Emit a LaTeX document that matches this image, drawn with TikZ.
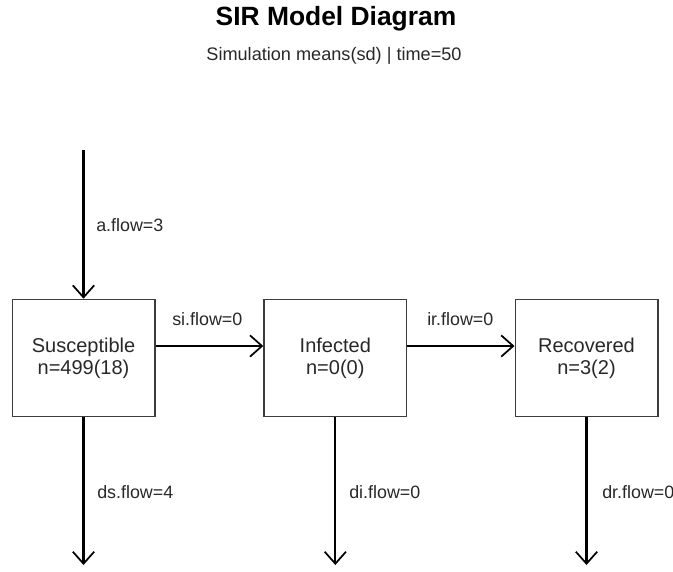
\documentclass[tikz,border=0pt]{standalone}
\usepackage{fontspec}
\setmainfont{Liberation Sans}
\usetikzlibrary{positioning,arrows.meta}
\definecolor{boxcolor}{RGB}{60,60,60}
\definecolor{textcolor}{RGB}{40,40,40}

\begin{document}
\begin{tikzpicture}[
    x=0.75pt, y=-0.75pt,
    compartment/.style={rectangle, draw=boxcolor, line width=1pt, minimum width=107pt, minimum height=88pt, align=center, font=\fontsize{15}{16.5}\selectfont, text=textcolor},
    flowlabel/.style={anchor=base west, inner sep=0pt, font=\fontsize{13.4}{16}\selectfont, text=textcolor},
    arrow/.style={-{Straight Barb[length=9pt, width=16pt, line width=1.3pt]}, line width=1.6pt},
    title/.style={anchor=base, inner sep=0pt, font=\fontsize{19.8}{22}\selectfont\bfseries},
    subtitle/.style={anchor=base, inner sep=0pt, font=\fontsize{13.6}{16}\selectfont, text=textcolor}
]
\useasboundingbox (0,0) rectangle (673,571);

% ===== TITLE =====
\node[title] (maintitle) at (336,25) {SIR Model Diagram};
\node[subtitle] (subtitle) at (334,60) {Simulation means(sd) | time=50};

% ===== COMPARTMENTS =====
\node[compartment] (susc) at (83.5,358) {Susceptible\\n=499(18)};
\node[compartment] (inf) at (335.3,358) {Infected\\n=0(0)};
\node[compartment] (rec) at (586.5,358) {Recovered\\n=3(2)};

% ===== OPEN ENDS =====
\coordinate (ain) at (83.5,150);
\coordinate (dsout) at (83.5,565);
\coordinate (diout) at (335.3,565);
\coordinate (drout) at (586.5,565);

% ===== ARROWS =====
\draw[arrow] (ain) -- (susc.north);
\draw[arrow] ([yshift=9pt]susc.east) -- ([yshift=9pt]inf.west);
\draw[arrow] ([yshift=9pt]inf.east) -- ([yshift=9pt]rec.west);
\draw[arrow] (susc.south) -- (dsout);
\draw[arrow] (inf.south) -- (diout);
\draw[arrow] (rec.south) -- (drout);

% ===== FLOW LABELS =====
\node[flowlabel] (aflow) at (96,231) {a.flow=3};
\node[flowlabel] (siflow) at (172,325) {si.flow=0};
\node[flowlabel] (irflow) at (427,325) {ir.flow=0};
\node[flowlabel] (dsflow) at (97,498) {ds.flow=4};
\node[flowlabel] (diflow) at (349,498) {di.flow=0};
\node[flowlabel] (drflow) at (602,498) {dr.flow=0};

\end{tikzpicture}
\end{document}
